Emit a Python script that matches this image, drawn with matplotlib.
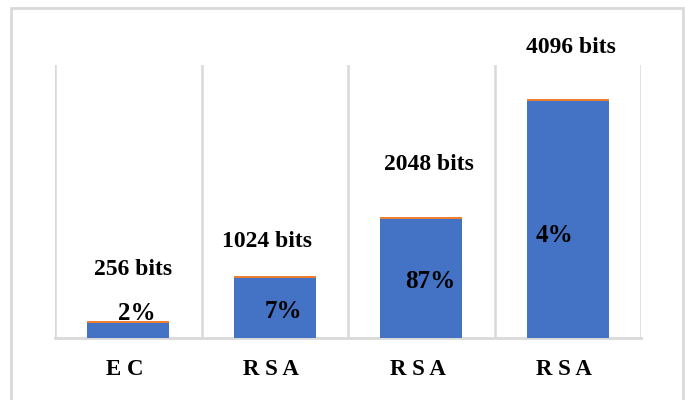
import matplotlib
matplotlib.use("Agg")
import matplotlib.pyplot as plt
from matplotlib.patches import Rectangle
from matplotlib.transforms import ScaledTranslation

categories = ["E C", "R S A", "R S A", "R S A"]
blue_values = [15, 60, 119, 237]
orange_values = [1.6, 1.6, 1.6, 1.6]
bits_labels = ["256 bits", "1024 bits", "2048 bits", "4096 bits"]
pct_labels = ["2%", "7%", "87%", "4%"]

plt.rcParams['font.family'] = ['Liberation Serif', 'DejaVu Serif']

fig = plt.figure(figsize=(6.85, 4.0), dpi=100)
fig.patches.append(Rectangle((11/685, -0.1), (683-11)/685, 1.1 - 8/400,
                             transform=fig.transFigure, fill=False,
                             edgecolor="#d9d9d9", linewidth=2, clip_on=False))

ax = fig.add_axes([55/685, (400-338)/400, (641-55)/685, (338-65)/400])
x = list(range(len(categories)))
ax.bar(x, blue_values, width=0.56, color="#4472C4", zorder=3)
ax.bar(x, orange_values, width=0.56, bottom=blue_values, color="#ED7D31", zorder=3)

ax.set_xlim(-0.5, len(categories) - 0.5)
ax.set_ylim(0, 273)
for b in [i + 0.5 for i in range(-1, len(categories))]:
    ax.axvline(b, color="#d9d9d9", linewidth=1.8, zorder=1)

for s in ["top", "left", "right"]:
    ax.spines[s].set_visible(False)
ax.spines["bottom"].set_color("#d9d9d9")
ax.spines["bottom"].set_linewidth(2)
ax.set_yticks([])
ax.set_xticks(x)
ax.set_xticklabels(categories, fontsize=16.5, fontweight="bold")
ax.tick_params(axis="x", length=0, pad=15)
shift = ScaledTranslation(-3.5 / 100, 0, fig.dpi_scale_trans)
for lbl in ax.get_xticklabels():
    lbl.set_transform(lbl.get_transform() + shift)

# bits labels above bars (baseline offsets above bar top)
bits_y_off = [46.4, 29.4, 47.4, 46.4]
bits_x_off = [0.03, -0.05, 0.05, 0.02]
for i, (v, lab) in enumerate(zip(blue_values, bits_labels)):
    ax.text(i + bits_x_off[i], v + orange_values[i] + bits_y_off[i], lab,
            ha="center", va="baseline", fontsize=17, fontweight="bold",
            zorder=4)

# percentage labels (baseline positions)
pct_pos = [(0.06, 18), (0.06, 20), (0.06, 50), (-0.09, 96)]
for i, lab in enumerate(pct_labels):
    dx, y = pct_pos[i]
    ax.text(i + dx, y, lab, ha="center", va="baseline", fontsize=18,
            fontweight="bold", zorder=4)

fig.savefig("out.png", dpi=100)
